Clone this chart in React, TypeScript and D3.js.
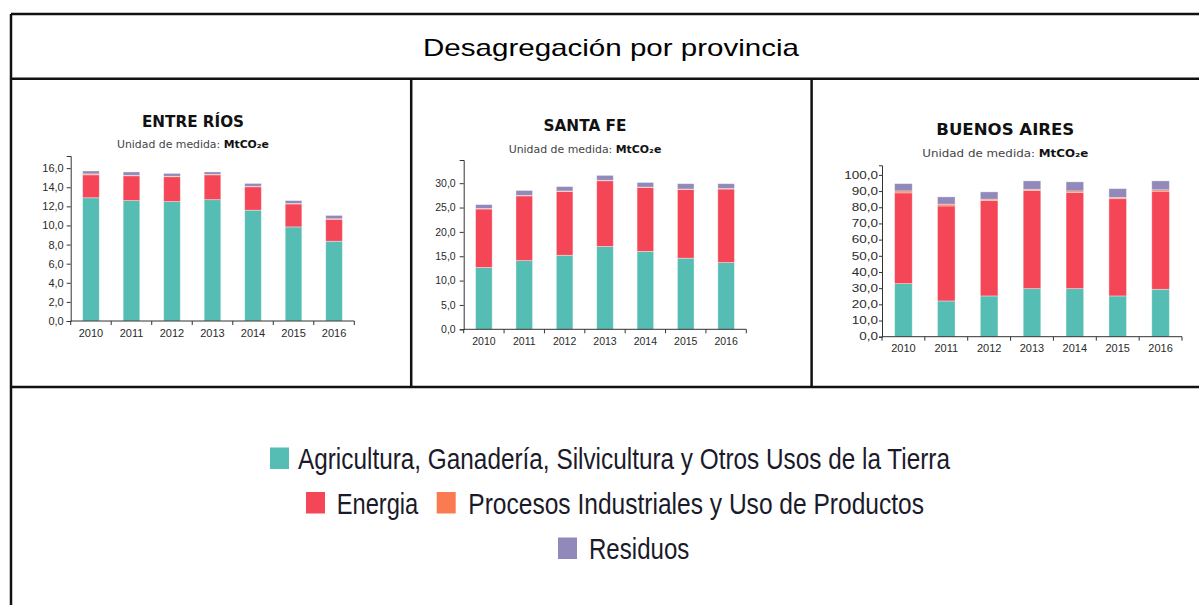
import React, { useEffect, useRef } from 'react';
import * as d3 from 'd3';

const years = ['2010', '2011', '2012', '2013', '2014', '2015', '2016'];
const seriesNames = [
  'Agricultura, Ganadería, Silvicultura y Otros Usos de la Tierra',
  'Energia',
  'Procesos Industriales y Uso de Productos',
  'Residuos',
];
const seriesColors = ['#55bdb3', '#f44656', '#fa7a52', '#9189b9'];

const entreRiosAgricultura = [12.9, 12.6, 12.5, 12.7, 11.6, 9.85, 8.35];
const entreRiosEnergia = [2.4, 2.6, 2.6, 2.6, 2.45, 2.4, 2.3];
const entreRiosProcesos = [0.1, 0.05, 0.05, 0.05, 0.05, 0.05, 0.05];
const entreRiosResiduos = [0.3, 0.35, 0.3, 0.25, 0.3, 0.3, 0.35];

const santaFeAgricultura = [12.7, 14.1, 15.2, 17.0, 16.0, 14.6, 13.7];
const santaFeEnergia = [12.0, 13.3, 13.1, 13.5, 13.1, 14.1, 15.1];
const santaFeProcesos = [0.1, 0.1, 0.1, 0.1, 0.1, 0.1, 0.1];
const santaFeResiduos = [0.8, 1.0, 0.9, 1.0, 0.95, 1.1, 1.0];

const buenosAiresAgricultura = [32.8, 22.1, 25.2, 29.7, 29.7, 25.2, 29.3];
const buenosAiresEnergia = [56.1, 58.7, 58.9, 60.6, 59.4, 60.1, 60.6];
const buenosAiresProcesos = [1.2, 1.1, 0.9, 0.8, 1.0, 0.8, 0.9];
const buenosAiresResiduos = [4.5, 4.5, 4.5, 5.2, 5.6, 5.4, 5.5];

const provinceNames = ['ENTRE RÍOS', 'SANTA FE', 'BUENOS AIRES'];

const provinceSeries = [
  [entreRiosAgricultura, entreRiosEnergia, entreRiosProcesos, entreRiosResiduos],
  [santaFeAgricultura, santaFeEnergia, santaFeProcesos, santaFeResiduos],
  [buenosAiresAgricultura, buenosAiresEnergia, buenosAiresProcesos, buenosAiresResiduos],
];

const SANS = "'Liberation Sans', Arial, sans-serif";

// layout per panel (pixel geometry only)
const panels = [
  { x0: 70.7, x1: 354.3, yZero: 321, yTop: 156, titleX: 193, titleY: 126.7, titleW: 102, titleFs: 15, subY: 148.3, subW: 152, tickFs: 11, yLabelScale: 1, yTick: 4, yPad: 3 },
  { x0: 463.7, x1: 746.3, yZero: 329.3, yTop: 160, titleX: 585, titleY: 130.7, titleW: 83, titleFs: 15, subY: 152.7, subW: 152.6, tickFs: 10.5, yLabelScale: 1, yTick: 4, yPad: 4 },
  { x0: 882, x1: 1182, yZero: 336.7, yTop: 165.3, titleX: 1005.3, titleY: 135, titleW: 138, titleFs: 16, subY: 157.3, subW: 166, tickFs: 11, yLabelScale: 1.35, yTick: 3, yPad: 1 },
];

const fmt = (v: number) => d3.format('.1f')(v).replace('.', ',');

export default function App() {
  const ref = useRef<SVGSVGElement>(null);

  useEffect(() => {
    const svg = d3.select(ref.current);
    svg.selectAll('*').remove();

    svg.append('rect').attr('width', 1199).attr('height', 605).attr('fill', '#fff');

    // table borders
    const borders = svg.append('g').attr('stroke', '#111').attr('stroke-width', 2.5).attr('fill', 'none');
    borders.append('line').attr('x1', 11).attr('x2', 1199).attr('y1', 14).attr('y2', 14);
    borders.append('line').attr('x1', 11).attr('x2', 11).attr('y1', 14).attr('y2', 605);
    borders.append('line').attr('x1', 11).attr('x2', 1199).attr('y1', 78.7).attr('y2', 78.7);
    borders.append('line').attr('x1', 11).attr('x2', 1199).attr('y1', 387).attr('y2', 387);
    borders.append('line').attr('x1', 411.2).attr('x2', 411.2).attr('y1', 78.7).attr('y2', 387);
    borders.append('line').attr('x1', 811.6).attr('x2', 811.6).attr('y1', 78.7).attr('y2', 387);

    // main title
    svg.append('text')
      .attr('x', 611).attr('y', 56)
      .attr('text-anchor', 'middle')
      .attr('font-family', SANS)
      .attr('font-size', 24)
      .attr('textLength', 376)
      .attr('lengthAdjust', 'spacingAndGlyphs')
      .attr('fill', '#000')
      .text('Desagregación por provincia');

    panels.forEach((p, pi) => {
      const series = provinceSeries[pi];
      const rows = years.map((yr, i) => {
        const r: any = { year: yr };
        series.forEach((s, si) => { r['s' + si] = s[i]; });
        return r;
      });
      const keys = series.map((_, si) => 's' + si);
      const stacked = d3.stack().keys(keys)(rows);
      const maxTotal = d3.max(rows, (r: any) => keys.reduce((a, k) => a + r[k], 0)) as number;

      const x = d3.scaleBand().domain(years).range([p.x0, p.x1]).padding(0);
      const y = d3.scaleLinear().domain([0, maxTotal * 1.1]).range([p.yZero, p.yTop]);
      const barW = x.bandwidth() * 0.41;

      const g = svg.append('g');

      // title
      g.append('text')
        .attr('x', p.titleX).attr('y', p.titleY)
        .attr('text-anchor', 'middle')
        .attr('font-family', "'DejaVu Sans', sans-serif")
        .attr('font-weight', 'bold')
        .attr('font-size', p.titleFs)
        .attr('textLength', p.titleW)
        .attr('lengthAdjust', 'spacingAndGlyphs')
        .attr('fill', '#111')
        .text(provinceNames[pi]);

      const sub = g.append('text')
        .attr('x', p.titleX).attr('y', p.subY)
        .attr('text-anchor', 'middle')
        .attr('font-family', "'DejaVu Sans', sans-serif")
        .attr('font-size', 10.5)
        .attr('textLength', p.subW)
        .attr('lengthAdjust', 'spacingAndGlyphs')
        .attr('fill', '#444');
      sub.append('tspan').text('Unidad de medida: ');
      sub.append('tspan').attr('font-weight', 'bold').attr('fill', '#111').text('MtCO₂e');

      // bars
      stacked.forEach((layer, li) => {
        g.append('g')
          .attr('fill', seriesColors[li])
          .selectAll('rect')
          .data(layer)
          .join('rect')
          .attr('x', (d: any) => (x(d.data.year) as number) + (x.bandwidth() - barW) / 2)
          .attr('width', barW)
          .attr('y', (d: any) => y(d[1]))
          .attr('height', (d: any) => Math.max(0, y(d[0]) - y(d[1])))
          .attr('stroke', 'rgba(255,255,255,0.45)')
          .attr('stroke-width', 0.8);
      });

      // y axis
      const yAxis = g.append('g')
        .attr('transform', `translate(${p.x0},0)`)
        .call(d3.axisLeft(y).ticks(10).tickFormat((v: any) => fmt(v)).tickSize(p.yTick).tickPadding(p.yPad));
      yAxis.select('.domain').attr('stroke', '#333');
      yAxis.selectAll('.tick line').attr('stroke', '#333');
      yAxis.selectAll('.tick text')
        .attr('font-family', SANS)
        .attr('font-size', p.tickFs)
        .attr('fill', '#2a2a2a');
      if (p.yLabelScale !== 1) {
        const off = -(p.yTick + p.yPad);
        yAxis.selectAll('.tick text')
          .attr('x', 0)
          .attr('font-size', 10)
          .attr('transform', `translate(${off},0) scale(${p.yLabelScale},1)`);
      }

      // x axis
      const xa = g.append('g').attr('stroke', '#333').attr('fill', 'none');
      xa.append('line').attr('x1', p.x0).attr('x2', p.x1).attr('y1', p.yZero).attr('y2', p.yZero);
      const bounds = years.map((yr) => x(yr) as number).concat([p.x1]);
      xa.selectAll('line.t')
        .data(bounds)
        .join('line')
        .attr('class', 't')
        .attr('x1', (d) => d).attr('x2', (d) => d)
        .attr('y1', p.yZero).attr('y2', p.yZero + 4);
      g.append('g')
        .selectAll('text')
        .data(years)
        .join('text')
        .attr('x', (d) => (x(d) as number) + x.bandwidth() / 2)
        .attr('y', p.yZero + 15.5)
        .attr('text-anchor', 'middle')
        .attr('font-family', SANS)
        .attr('font-size', p.tickFs)
        .attr('fill', '#2a2a2a')
        .text((d) => d);
    });

    // legend
    const legendRows = [
      [{ si: 0, sx: 270, tx: 298, len: 652 }],
      [{ si: 1, sx: 306, tx: 336.7, len: 81.6 }, { si: 2, sx: 436.7, tx: 468.3, len: 455.7 }],
      [{ si: 3, sx: 558, tx: 589, len: 100.3 }],
    ];
    const baselines = [469, 513.5, 559];
    const lg = svg.append('g');
    legendRows.forEach((row, ri) => {
      row.forEach((it) => {
        lg.append('rect')
          .attr('x', it.sx).attr('y', baselines[ri] - 21.5)
          .attr('width', 19).attr('height', 21.5)
          .attr('fill', seriesColors[it.si]);
        lg.append('text')
          .attr('x', it.tx).attr('y', baselines[ri])
          .attr('font-family', SANS)
          .attr('font-size', 29)
          .attr('textLength', it.len)
          .attr('lengthAdjust', 'spacingAndGlyphs')
          .attr('fill', '#1a1a2a')
          .text(seriesNames[it.si]);
      });
    });
  }, []);

  return (
    <svg
      ref={ref}
      width={1199}
      height={605}
      style={{ position: 'absolute', left: 0, top: 0, display: 'block' }}
    />
  );
}
